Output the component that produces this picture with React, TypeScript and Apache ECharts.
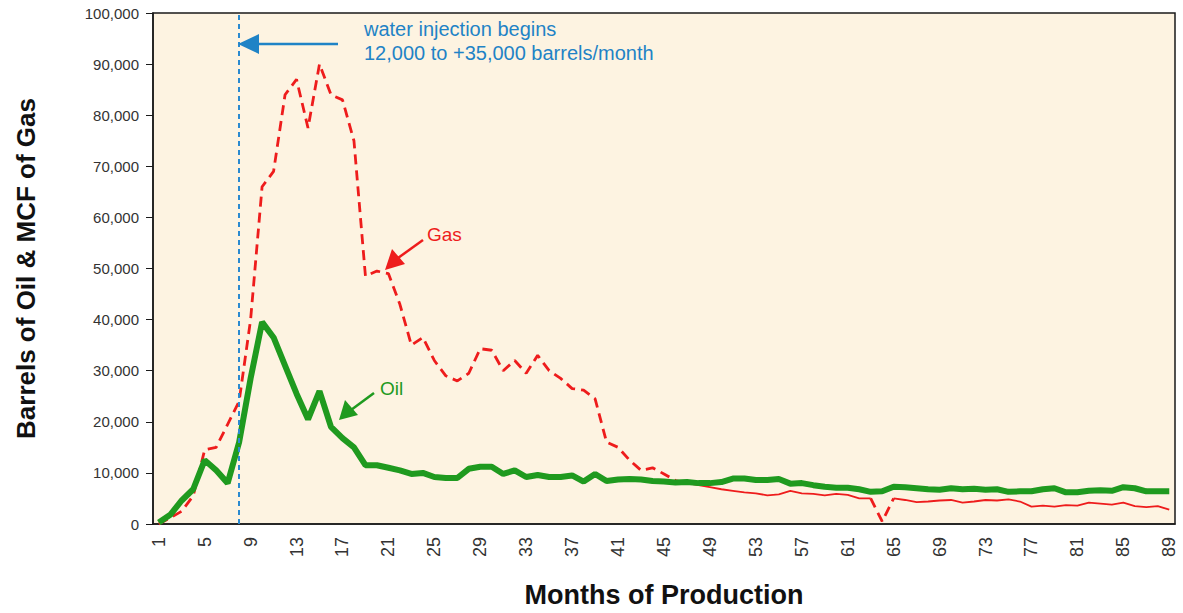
import React, { useEffect, useRef } from "react";
import * as echarts from "echarts";

const months: string[] = Array.from({ length: 89 }, (_, i) => String(i + 1));

const oil: number[] = [
  300, 1800, 4600, 6800, 12500, 10500, 8000, 16000, 28500, 39500,
  36500, 31000, 25500, 20500, 26000, 19000, 16800, 15000, 11500, 11500,
  11000, 10500, 9800, 10000, 9200, 9000, 9000, 10800, 11200, 11200,
  9800, 10500, 9200, 9600, 9200, 9200, 9500, 8300, 9800, 8400,
  8700, 8800, 8700, 8400, 8300, 8100, 8200, 8000, 8000, 8200,
  8900, 8900, 8600, 8600, 8800, 7900, 8000, 7600, 7300, 7100,
  7100, 6800, 6300, 6400, 7300, 7200, 7000, 6800, 6700, 7000,
  6800, 6900, 6700, 6800, 6300, 6400, 6400, 6800, 7000, 6200,
  6200, 6500, 6600, 6500, 7200, 7000, 6400, 6400, 6400,
];

const gas: number[] = [
  0, 1200, 2500, 5500, 14500, 15000, 19500, 24000, 40000, 66000,
  69000, 84000, 87000, 77500, 90000, 84000, 83000, 75000, 48500, 49500,
  49000, 43000, 35000, 36500, 32000, 29000, 28000, 29500, 34300, 34000,
  30000, 32000, 29500, 33000, 30000, 28500, 26500, 26200, 24500, 16000,
  15000, 12500, 10500, 11000, 9800, 8500, 8000, 7600, 7200, 6800,
  6500, 6200, 6000, 5600, 5800, 6500, 6000, 5900, 5600, 5900,
  5700, 5000, 5000, 500, 5000, 4700, 4300, 4400, 4600, 4700,
  4200, 4400, 4700, 4600, 4800, 4400, 3400, 3600, 3400, 3700,
  3600, 4200, 4000, 3800, 4200, 3500, 3300, 3500, 2800,
];

const yTicks = { min: 0, max: 100000, step: 10000 };
const injectionMonth = "8";
const annotationLines = ["water injection begins", "12,000 to +35,000 barrels/month"];

export default function App() {
  const ref = useRef<HTMLDivElement>(null);

  useEffect(() => {
    if (!ref.current) return;
    const chart = echarts.init(ref.current, null, { renderer: "svg" });

    const inRanges = (i: number, ranges: [number, number][]) =>
      ranges.some(([a, b]) => i >= a && i <= b);
    const gasDashed = gas.map((v, i) => (inRanges(i, [[0, 46], [62, 64]]) ? v : null));
    const gasSolid = gas.map((v, i) => (inRanges(i, [[46, 62], [64, 88]]) ? v : null));

    const font = "Liberation Sans, Arial, Helvetica, sans-serif";
    const blue = "#1f83c6";
    const red = "#ee1c1c";
    const green = "#1f9a1f";

    chart.setOption({
      animation: false,
      grid: {
        left: 153,
        right: 8,
        top: 13,
        bottom: 89,
        containLabel: false,
        outerBoundsMode: "none",
        show: true,
        backgroundColor: "#fdf3e1",
        borderColor: "#1a1a1a",
        borderWidth: 1.5,
      },
      xAxis: {
        type: "category",
        data: months,
        boundaryGap: true,
        name: "Months of Production",
        nameLocation: "middle",
        nameGap: 57,
        nameTextStyle: {
          fontFamily: font,
          fontWeight: "bold",
          fontSize: 27,
          color: "#111",
        },
        axisLine: { show: true, lineStyle: { color: "#1a1a1a", width: 1.5 } },
        axisTick: { show: false },
        axisLabel: {
          interval: 3,
          rotate: 90,
          margin: 13,
          fontSize: 18,
          color: "#333",
          fontFamily: font,
        },
        splitLine: { show: false },
      },
      yAxis: {
        type: "value",
        min: yTicks.min,
        max: yTicks.max,
        interval: yTicks.step,
        name: "Barrels of Oil & MCF of Gas",
        nameLocation: "middle",
        nameGap: 114,
        nameTextStyle: {
          fontFamily: font,
          fontWeight: "bold",
          fontSize: 26,
          color: "#111",
        },
        axisLine: { show: true, lineStyle: { color: "#1a1a1a", width: 1.5 } },
        axisTick: { show: true, length: 7, lineStyle: { color: "#1a1a1a" } },
        axisLabel: {
          fontSize: 15,
          color: "#333",
          margin: 14,
          fontFamily: font,
          formatter: (v: number) => v.toLocaleString("en-US"),
        },
        splitLine: { show: false },
      },
      series: [
        {
          name: "Gas",
          type: "line",
          data: gasDashed,
          symbol: "none",
          connectNulls: false,
          lineStyle: { color: red, width: 2.8, type: [10, 6] },
          z: 3,
        },
        {
          name: "Gas tail",
          type: "line",
          data: gasSolid,
          symbol: "none",
          connectNulls: false,
          lineStyle: { color: red, width: 1.8 },
          z: 3,
        },
        {
          name: "Oil",
          type: "line",
          data: oil,
          symbol: "none",
          lineStyle: { color: green, width: 6 },
          z: 4,
          markLine: {
            silent: true,
            symbol: "none",
            label: { show: false },
            lineStyle: { color: "#2a8ad0", width: 2, type: [5, 4] },
            data: [{ xAxis: injectionMonth }],
          },
        },
      ],
      graphic: [
        {
          type: "line",
          shape: { x1: 256, y1: 44, x2: 338, y2: 44 },
          style: { stroke: blue, lineWidth: 2.5 },
          z: 10,
        },
        {
          type: "polygon",
          shape: { points: [[238, 44], [259, 34], [259, 54]] },
          style: { fill: blue },
          z: 10,
        },
        {
          type: "text",
          left: 364,
          top: 17,
          style: {
            text: annotationLines.join("\n"),
            fill: blue,
            fontSize: 20,
            lineHeight: 24,
            fontFamily: font,
          },
          z: 10,
        },
        {
          type: "line",
          shape: { x1: 423, y1: 240, x2: 398, y2: 258 },
          style: { stroke: red, lineWidth: 2.5 },
          z: 10,
        },
        {
          type: "polygon",
          shape: { points: [[385, 270], [392, 249], [405, 264]] },
          style: { fill: red },
          z: 10,
        },
        {
          type: "text",
          left: 427,
          top: 225,
          style: {
            text: "Gas",
            fill: red,
            fontSize: 19,
            fontFamily: font,
          },
          z: 10,
        },
        {
          type: "line",
          shape: { x1: 374, y1: 393, x2: 351, y2: 410 },
          style: { stroke: green, lineWidth: 2.5 },
          z: 10,
        },
        {
          type: "polygon",
          shape: { points: [[339, 420], [345, 400], [358, 415]] },
          style: { fill: green },
          z: 10,
        },
        {
          type: "text",
          left: 380,
          top: 379,
          style: {
            text: "Oil",
            fill: green,
            fontSize: 19,
            fontFamily: font,
          },
          z: 10,
        },
      ],
    });

    return () => chart.dispose();
  }, []);

  return (
    <div
      ref={ref}
      style={{ position: "absolute", left: 0, top: 0, width: 1183, height: 613 }}
    />
  );
}
